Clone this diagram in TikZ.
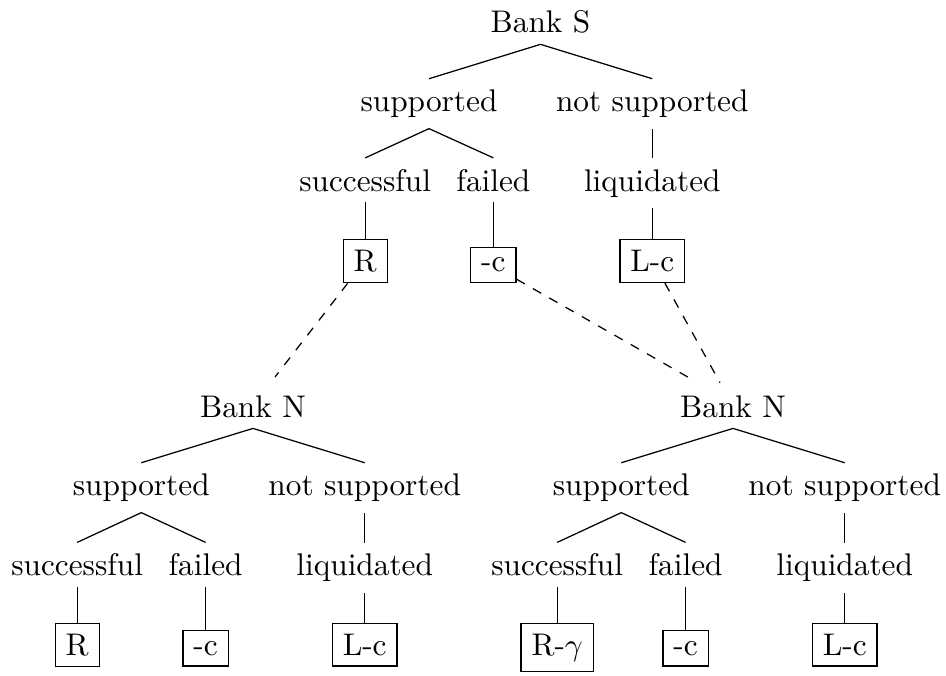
\documentclass[tikz,border=0pt]{standalone}
\usetikzlibrary{calc}
\begin{document}
\begin{tikzpicture}[x=0.3195pt,y=-0.3195pt,
  lbl/.style={anchor=base,inner sep=3.33pt},
  leaf/.style={anchor=base,draw,inner sep=3.33pt},
  br/.style={line width=0.4pt},
  link/.style={dashed,line width=0.4pt}]
\useasboundingbox (0,0) rectangle (946,675);
% top tree
\node[lbl] (bs) at (540.5,32.6) {Bank S};
\node[lbl] (sup0) at (429,111.5) {supported};
\node[lbl] (nsup0) at (652.3,111.5) {not supported};
\node[lbl] (suc0) at (365.2,191) {successful};
\node[lbl] (fail0) at (493.4,191) {failed};
\node[lbl] (liq0) at (652.3,191) {liquidated};
\node[leaf] (r0) at (365.2,271.6) {R};
\node[leaf] (c0) at (493.4,271.6) {-c};
\node[leaf] (l0) at (652.3,271.6) {L-c};
\draw[br] (bs.south) -- (sup0.north);
\draw[br] (bs.south) -- (nsup0.north);
\draw[br] (sup0.south) -- (suc0.north);
\draw[br] (sup0.south) -- (fail0.north);
\draw[br] (nsup0.south) -- (liq0.north);
\draw[br] (suc0.south) -- (r0.north);
\draw[br] (fail0.south) -- (c0.north);
\draw[br] (liq0.south) -- (l0.north);
% bottom-left tree
\node[lbl] (bn1) at (253,417) {Bank N};
\node[lbl] (sup1) at (141.3,495.5) {supported};
\node[lbl] (nsup1) at (364.7,495.5) {not supported};
\node[lbl] (suc1) at (77.2,575.5) {successful};
\node[lbl] (fail1) at (205.6,575.5) {failed};
\node[lbl] (liq1) at (364.7,575.5) {liquidated};
\node[leaf] (r1) at (77.2,655.3) {R};
\node[leaf] (c1) at (205.6,655.3) {-c};
\node[leaf] (l1) at (364.7,655.3) {L-c};
\draw[br] (bn1.south) -- (sup1.north);
\draw[br] (bn1.south) -- (nsup1.north);
\draw[br] (sup1.south) -- (suc1.north);
\draw[br] (sup1.south) -- (fail1.north);
\draw[br] (nsup1.south) -- (liq1.north);
\draw[br] (suc1.south) -- (r1.north);
\draw[br] (fail1.south) -- (c1.north);
\draw[br] (liq1.south) -- (l1.north);
% bottom-right tree
\node[lbl] (bn2) at (733,417) {Bank N};
\node[lbl] (sup2) at (621.3,495.5) {supported};
\node[lbl] (nsup2) at (844.7,495.5) {not supported};
\node[lbl] (suc2) at (557.2,575.5) {successful};
\node[lbl] (fail2) at (685.6,575.5) {failed};
\node[lbl] (liq2) at (844.7,575.5) {liquidated};
\node[leaf] (r2) at (557.2,655.3) {R-$\gamma$};
\node[leaf] (c2) at (685.6,655.3) {-c};
\node[leaf] (l2) at (844.7,655.3) {L-c};
\draw[br] (bn2.south) -- (sup2.north);
\draw[br] (bn2.south) -- (nsup2.north);
\draw[br] (sup2.south) -- (suc2.north);
\draw[br] (sup2.south) -- (fail2.north);
\draw[br] (nsup2.south) -- (liq2.north);
\draw[br] (suc2.south) -- (r2.north);
\draw[br] (fail2.south) -- (c2.north);
\draw[br] (liq2.south) -- (l2.north);
% dashed links
\coordinate (e1) at (275,377);
\coordinate (e2) at (690,378.3);
\coordinate (e3) at (720,382.7);
\draw[link] ([xshift=1.6pt]r0.south west) -- (e1);
\draw[link] ([yshift=1.2pt]c0.south east) -- (e2);
\draw[link] ([xshift=4pt]l0.south) -- (e3);
\end{tikzpicture}
\end{document}
